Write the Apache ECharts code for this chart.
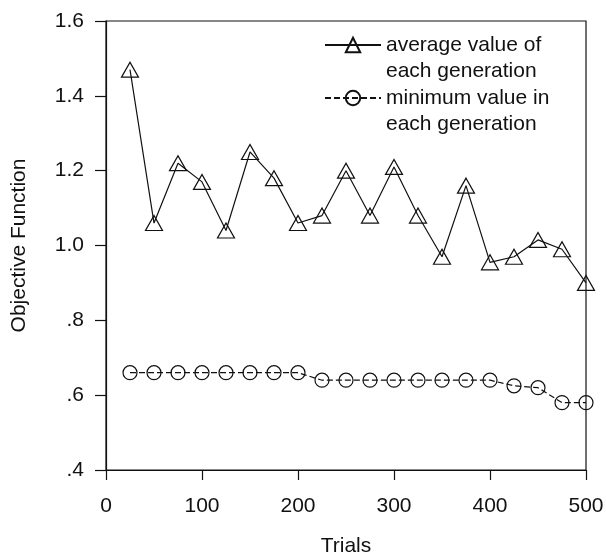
<!DOCTYPE html>
<html>
<head>
<meta charset="utf-8">
<script src="https://cdn.jsdelivr.net/npm/echarts@6/dist/echarts.min.js"></script>
<style>
  html, body { margin: 0; padding: 0; background: #fff; }
  #chart { width: 606px; height: 554px; }
</style>
</head>
<body>
<div id="chart"></div>
<script>
// trials at which each generation was sampled
const trials = [25, 50, 75, 100, 125, 150, 175, 200, 225, 250, 275, 300, 325, 350, 375, 400, 425, 450, 475, 500]
const avgValues = [1.47, 1.06, 1.22, 1.17, 1.04, 1.25, 1.18, 1.06, 1.08, 1.20, 1.08, 1.21, 1.08, 0.97, 1.16, 0.955, 0.97, 1.015, 0.99, 0.90]
const minValues = [0.66, 0.66, 0.66, 0.66, 0.66, 0.66, 0.66, 0.66, 0.64, 0.64, 0.64, 0.64, 0.64, 0.64, 0.64, 0.64, 0.625, 0.62, 0.58, 0.58]
const yTickLabels = { 0.4: '.4', 0.6: '.6', 0.8: '.8', 1: '1.0', 1.2: '1.2', 1.4: '1.4', 1.6: '1.6' }
const seriesNames = ['average value of\neach generation', 'minimum value in\neach generation']

const font = 'Liberation Sans, Arial, sans-serif'
const fontSize = 21
const ink = '#111'

const chart = echarts.init(document.getElementById('chart'))

const option = {
  animation: false,
  backgroundColor: '#fff',
  grid: {
    left: 106,
    right: 20,
    top: 21,
    bottom: 84,
    outerBoundsMode: 'none',
    show: true,
    borderColor: ink,
    borderWidth: 1.2,
  },
  legend: {
    orient: 'vertical',
    left: 324,
    top: 6,
    padding: 0,
    itemWidth: 56,
    itemHeight: 18,
    itemGap: -25,
    data: seriesNames,
    // a leading blank line puts the first text line level with the icon
    formatter: (name) => '\n' + name,
    textStyle: {
      fontFamily: font,
      fontSize: fontSize,
      color: ink,
      lineHeight: 26,
    },
  },
  xAxis: {
    type: 'value',
    min: 0,
    max: 500,
    interval: 100,
    name: 'Trials',
    nameLocation: 'middle',
    nameGap: 66,
    nameTextStyle: { fontFamily: font, fontSize: fontSize, color: ink },
    axisLine: { lineStyle: { color: ink, width: 1.2 } },
    axisTick: { inside: false, length: 10, lineStyle: { color: ink, width: 1.2 } },
    axisLabel: { fontFamily: font, fontSize: fontSize, color: ink, margin: 26 },
    splitLine: { show: false },
  },
  yAxis: {
    type: 'value',
    min: 0.4,
    max: 1.6,
    interval: 0.2,
    name: 'Objective Function',
    nameLocation: 'middle',
    nameGap: 76,
    nameTextStyle: { fontFamily: font, fontSize: fontSize, color: ink },
    axisLine: { lineStyle: { color: ink, width: 1.2 } },
    axisTick: { inside: false, length: 11, lineStyle: { color: ink, width: 1.2 } },
    axisLabel: {
      fontFamily: font,
      fontSize: fontSize,
      color: ink,
      margin: 22,
      formatter: (v) => yTickLabels[Math.round(v * 10) / 10] ?? '',
    },
    splitLine: { show: false },
  },
  series: [
    {
      name: seriesNames[0],
      type: 'line',
      data: trials.map((t, i) => [t, avgValues[i]]),
      symbol: 'triangle',
      symbolSize: [17, 15],
      lineStyle: { color: ink, width: 1.2 },
      itemStyle: { color: 'rgba(0,0,0,0)', borderColor: ink, borderWidth: 1.2 },
    },
    {
      name: seriesNames[1],
      type: 'line',
      data: trials.map((t, i) => [t, minValues[i]]),
      symbol: 'circle',
      symbolSize: 14,
      lineStyle: { color: ink, width: 1.2, type: [6, 3] },
      itemStyle: { color: 'rgba(0,0,0,0)', borderColor: ink, borderWidth: 1.2 },
    },
  ],
}

chart.setOption(option)
</script>
</body>
</html>
